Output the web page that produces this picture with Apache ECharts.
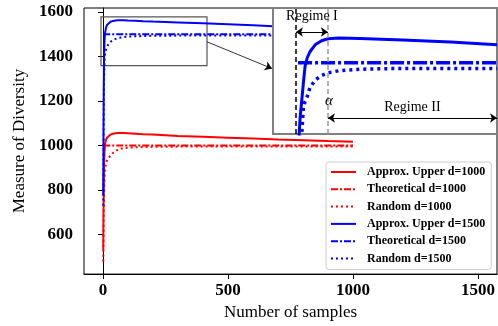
<!DOCTYPE html>
<html>
<head>
<meta charset="utf-8">
<script src="https://cdn.jsdelivr.net/npm/echarts@6/dist/echarts.min.js"></script>
<style>
  html, body { margin: 0; padding: 0; background: #fff; }
  #chart { width: 498px; height: 326px; }
</style>
</head>
<body>
<div id="chart"></div>
<script>
// sample counts (x) shared by the main curves
const xs = [1, 2, 3, 4, 6, 8, 12, 16, 20, 30, 40, 50, 60, 80, 100, 130, 160, 200, 250, 300, 400, 500, 600, 700, 800, 900, 1000, 1100, 1200, 1300, 1400, 1500];

// d = 1000 curves stop at 1000 samples
const upper1000 = [530, 700, 820, 900, 970, 1005, 1025, 1035, 1041, 1049, 1053, 1055, 1056, 1056, 1055, 1053, 1051, 1049, 1046, 1043, 1039, 1035, 1031, 1027, 1024, 1020, 1017];
const random1000 = [478, 600, 700, 770, 850, 893, 920, 932, 940, 955, 967, 975, 982, 988, 990, 992, 993, 994, 994, 995, 995, 995, 995, 995, 995, 995, 995];
const theoryX1000 = [1, 1000];
const theory1000 = [1000, 1000];

// d = 1500 curves
const upper1500 = [775, 1050, 1250, 1380, 1470, 1505, 1530, 1542, 1548, 1556, 1560, 1562, 1563, 1563, 1562, 1561, 1559, 1557, 1555, 1553, 1549, 1545, 1540, 1535, 1531, 1527, 1523, 1519, 1516, 1513, 1510, 1507];
const random1500 = [730, 950, 1150, 1300, 1380, 1410, 1430, 1442, 1452, 1466, 1474, 1479, 1483, 1487, 1489, 1491, 1492, 1493, 1493, 1494, 1494, 1494, 1494, 1494, 1494, 1494, 1494, 1494, 1494, 1494, 1494, 1494];
const theoryX1500 = [1, 1500];
const theory1500 = [1500, 1500];

// zoomed inset (d = 1500)
const insetX = [3, 5, 8, 11, 14, 17, 21, 26, 36, 48, 60, 80, 120, 200, 290, 377];
const insetUpper = [1150, 1300, 1365, 1407, 1450, 1490, 1512, 1527, 1545, 1555, 1560, 1562, 1561, 1557, 1552, 1545];
const insetRandom = [1100, 1200, 1270, 1325, 1388, 1403, 1415, 1437, 1457, 1468, 1475, 1480, 1484, 1486, 1486, 1486];
const insetTheoryX = [4, 377];
const insetTheory = [1500, 1500];
const regimeStart = 0;
const alpha = 60;

// zoom box on the main axes: [xMin, xMax, yMin, yMax]
const zoomBox = [-8, 416, 1359, 1578];

const xTicks = [0, 500, 1000, 1500];
const yTicks = [600, 800, 1000, 1200, 1400, 1600];

const RED = '#ff0000';
const BLUE = '#0000ff';
const SERIF = "'Liberation Serif', 'DejaVu Serif', serif";
const DASHDOT = [7, 2, 2, 2];
const DOTTED = [2, 3];

const pairs = (x, y) => y.map((v, i) => [x[i], v]);
const plain = v => String(v);

const chart = echarts.init(document.getElementById('chart'));

const mainLine = (name, x, y, color, type, extra) => Object.assign({
    name: name,
    type: 'line',
    xAxisIndex: 0,
    yAxisIndex: 0,
    data: pairs(x, y),
    symbol: 'none',
    animation: false,
    lineStyle: { color: color, width: 2, type: type },
    itemStyle: { color: color }
}, extra || {});

const insetLine = (name, x, y, type, width) => ({
    name: name,
    type: 'line',
    xAxisIndex: 1,
    yAxisIndex: 1,
    data: pairs(x, y),
    symbol: 'none',
    animation: false,
    z: 12,
    lineStyle: { color: BLUE, width: width, type: type },
    itemStyle: { color: BLUE }
});

const legendNames = [
    'Approx. Upper d=1000', 'Theoretical d=1000', 'Random d=1000',
    'Approx. Upper d=1500', 'Theoretical d=1500', 'Random d=1500'
];

const option = {
    animation: false,
    grid: [
        { left: 84, top: 8, width: 413, height: 268, show: true, borderColor: '#000', borderWidth: 1, backgroundColor: '#fff' },
        { left: 273, top: 8, width: 224, height: 126, show: true, borderColor: '#808080', borderWidth: 2, backgroundColor: '#fff', z: 10 }
    ],
    xAxis: [
        {
            type: 'value', gridIndex: 0, min: -76, max: 1576,
            name: 'Number of samples', nameLocation: 'middle', nameGap: 27,
            nameTextStyle: { fontFamily: SERIF, fontSize: 17, color: '#000' },
            axisLine: { show: true, lineStyle: { color: '#000' } },
            axisTick: { show: true, length: 5, lineStyle: { color: '#000' }, customValues: xTicks },
            axisLabel: { fontFamily: SERIF, fontWeight: 'bold', fontSize: 17, color: '#000', margin: 8, customValues: xTicks, formatter: plain },
            splitLine: { show: false }
        },
        { type: 'value', gridIndex: 1, min: -43, max: 377, show: false, splitLine: { show: false } }
    ],
    yAxis: [
        {
            type: 'value', gridIndex: 0, min: 422, max: 1618,
            name: 'Measure of Diversity', nameLocation: 'middle', nameGap: 55,
            nameTextStyle: { fontFamily: SERIF, fontSize: 17, color: '#000' },
            axisLine: { show: true, lineStyle: { color: '#000' } },
            axisTick: { show: true, length: 5, lineStyle: { color: '#000' }, customValues: yTicks },
            axisLabel: { fontFamily: SERIF, fontWeight: 'bold', fontSize: 17, color: '#000', margin: 11, customValues: yTicks, formatter: plain },
            splitLine: { show: false }
        },
        { type: 'value', gridIndex: 1, min: 1322, max: 1637, show: false, splitLine: { show: false } }
    ],
    legend: {
        data: legendNames,
        orient: 'vertical',
        left: 326,
        top: 162,
        padding: [3, 6, 4, 4],
        itemWidth: 25,
        itemHeight: 10,
        itemGap: 3.3,
        selectedMode: false,
        itemStyle: { opacity: 0 },
        backgroundColor: 'rgba(255,255,255,0.85)',
        borderColor: '#cccccc',
        borderWidth: 1,
        borderRadius: 3,
        textStyle: { fontFamily: SERIF, fontWeight: 'bold', fontSize: 12, lineHeight: 14, color: '#000', padding: [0, 0, 0, 6] }
    },
    series: [
        mainLine('Approx. Upper d=1000', xs, upper1000, RED, 'solid'),
        mainLine('Theoretical d=1000', theoryX1000, theory1000, RED, DASHDOT),
        mainLine('Random d=1000', xs, random1000, RED, DOTTED),
        mainLine('Approx. Upper d=1500', xs, upper1500, BLUE, 'solid', {
            markArea: {
                silent: true,
                itemStyle: { color: 'rgba(0,0,0,0)', borderColor: '#555', borderWidth: 1.2 },
                data: [[{ coord: [zoomBox[0], zoomBox[3]] }, { coord: [zoomBox[1], zoomBox[2]] }]]
            }
        }),
        mainLine('Theoretical d=1500', theoryX1500, theory1500, BLUE, DASHDOT),
        mainLine('Random d=1500', xs, random1500, BLUE, DOTTED, {
            markLine: {
                silent: true,
                animation: false,
                symbol: ['none', 'arrow'],
                symbolSize: 7,
                label: { show: false },
                lineStyle: { color: '#000', width: 0.8, type: 'solid' },
                data: [[{ coord: [zoomBox[1], 1466] }, { coord: [676, 1346] }]]
            }
        }),
        insetLine('inset upper', insetX, insetUpper, 'solid', 3),
        insetLine('inset theory', insetTheoryX, insetTheory, [14, 3, 3, 3], 3.5),
        Object.assign(insetLine('inset random', insetX, insetRandom, [3, 4], 3.5), {
            markLine: {
                silent: true,
                animation: false,
                z: 13,
                symbol: 'none',
                label: { show: false },
                data: [
                    { xAxis: regimeStart, lineStyle: { color: '#000', width: 1.5, type: [5, 3] } },
                    { xAxis: alpha, lineStyle: { color: '#999', width: 1.5, type: [5, 3] } }
                ]
            },
            markPoint: {
                silent: true,
                animation: false,
                z: 14,
                symbol: 'circle',
                symbolSize: 1,
                itemStyle: { color: 'rgba(0,0,0,0)' },
                data: [{
                    coord: [alpha + 2, 1405],
                    label: { show: true, position: 'inside', formatter: 'α', fontFamily: SERIF, fontStyle: 'italic', fontSize: 15, color: '#000' }
                }]
            }
        }),
        {
            name: 'inset regimes',
            type: 'line',
            xAxisIndex: 1,
            yAxisIndex: 1,
            data: [],
            z: 13,
            markLine: {
                silent: true,
                animation: false,
                z: 14,
                symbol: ['arrow', 'arrow'],
                symbolSize: 7,
                lineStyle: { color: '#000', width: 1.2, type: 'solid' },
                label: { show: true, position: 'middle', fontFamily: SERIF, fontSize: 14, color: '#000' },
                data: [
                    [{ coord: [regimeStart, 1577], label: { formatter: 'Regime I', distance: 9 } }, { coord: [alpha, 1577] }],
                    [{ coord: [alpha, 1362], label: { formatter: 'Regime II', distance: 4 } }, { coord: [377, 1362] }]
                ]
            }
        }
    ]
};

chart.setOption(option);
</script>
</body>
</html>
